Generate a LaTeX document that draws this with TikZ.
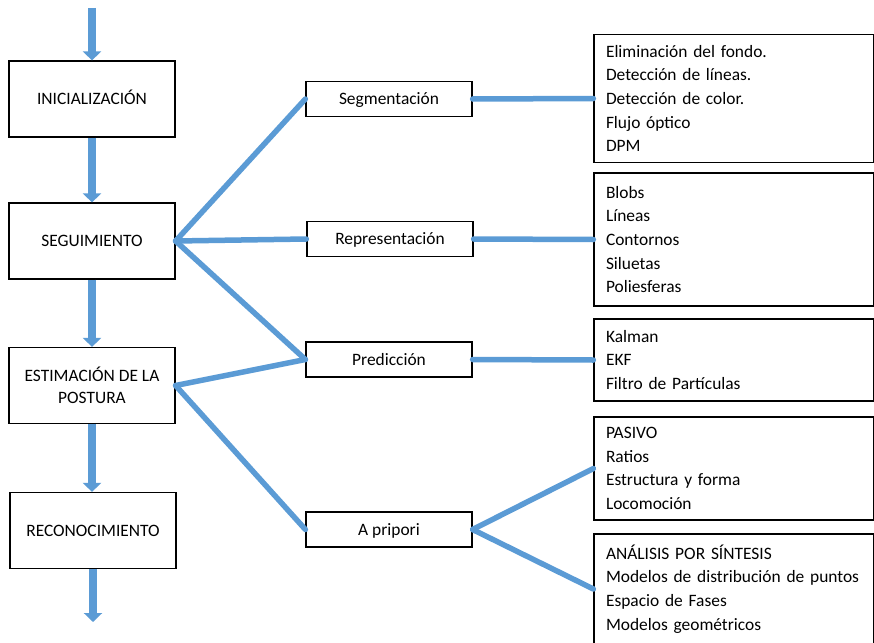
\documentclass[tikz,border=0pt]{standalone}
\usepackage{fontspec}
\setmainfont{Carlito}
\usetikzlibrary{arrows.meta}
\definecolor{flowblue}{RGB}{91,155,213}
\begin{document}
\begin{tikzpicture}[x=1pt,y=-1pt,
  every node/.style={font=\fontsize{17.4}{22}\selectfont},
  oneline/.style={text height=14pt,text depth=3pt},
  stage/.style={draw=black,line width=1.2pt,minimum width=166pt,minimum height=76pt,align=center,inner sep=0pt},
  method/.style={draw=black,line width=1.2pt,minimum width=166pt,minimum height=35pt,inner sep=0pt,oneline},
  detail/.style={draw=black,line width=1.2pt,text width=256pt,inner xsep=12pt,inner ysep=0pt,align=left,
    font=\fontsize{17.4}{23.6}\selectfont},
  flow/.style={flowblue,line width=8pt,-{Triangle[width=18pt,length=9pt]}},
  link/.style={flowblue,line width=5.5pt,line cap=round}]
\useasboundingbox (0,0) rectangle (874,642);
\begin{scope}
\clip (0,0) rectangle (874,642);

% main processing stages
\node[stage,oneline] (ini) at (92,99) {INICIALIZACIÓN};
\node[stage,oneline] (seg) at (92,241) {SEGUIMIENTO};
\node[stage] (est) at (92,385.5) {ESTIMACIÓN DE LA\\POSTURA};
\node[stage,oneline] (rec) at (93,530.5) {RECONOCIMIENTO};
\coordinate (in) at (ini.north |- 0,8);
\coordinate (out) at (rec.south |- 0,622);

% methods
\node[method] (sgm) at (389,99) {Segmentación};
\node[method] (rep) at (390,239) {Representación};
\node[method] (pre) at (389,359.5) {Predicción};
\node[method] (apr) at (389,529.5) {A pripori};

% technique lists
\node[detail,minimum height=128pt] (d1) at (734,98.5) {Eliminación del fondo.\\Detección de líneas.\\Detección de color.\\Flujo óptico\\DPM};
\node[detail,minimum height=133pt] (d2) at (734,239.5) {Blobs\\Líneas\\Contornos\\Siluetas\\Poliesferas};
\node[detail,minimum height=82pt] (d3) at (734,360) {Kalman\\EKF\\Filtro de Partículas};
\node[detail,minimum height=103pt] (d4) at (734,468.5) {PASIVO\\Ratios\\Estructura y forma\\Locomoción};
\node[detail,minimum height=110pt] (d5) at (734,589) {ANÁLISIS POR SÍNTESIS\\Modelos de distribución de puntos\\Espacio de Fases\\Modelos geométricos};

% main flow
\draw[flow] (in) -- (ini.north);
\draw[flow] (ini.south) -- (ini.south |- seg.north);
\draw[flow] (seg.south) -- (seg.south |- est.north);
\draw[flow] (est.south) -- (est.south |- rec.north);
\draw[flow] (rec.south) -- (out);

% links to methods
\draw[link] (seg.east) -- (sgm.west);
\draw[link] (seg.east) -- (rep.west);
\draw[link] (seg.east) -- (pre.west);
\draw[link] (est.east) -- (pre.west);
\draw[link] (est.east) -- (apr.west);

% links to techniques
\draw[link] (sgm.east) -- (d1.west);
\draw[link] (rep.east) -- (d2.west);
\draw[link] (pre.east) -- (d3.west);
\draw[link] (apr.east) -- (d4.west);
\draw[link] (apr.east) -- (d5.west);
\end{scope}
\end{tikzpicture}
\end{document}
